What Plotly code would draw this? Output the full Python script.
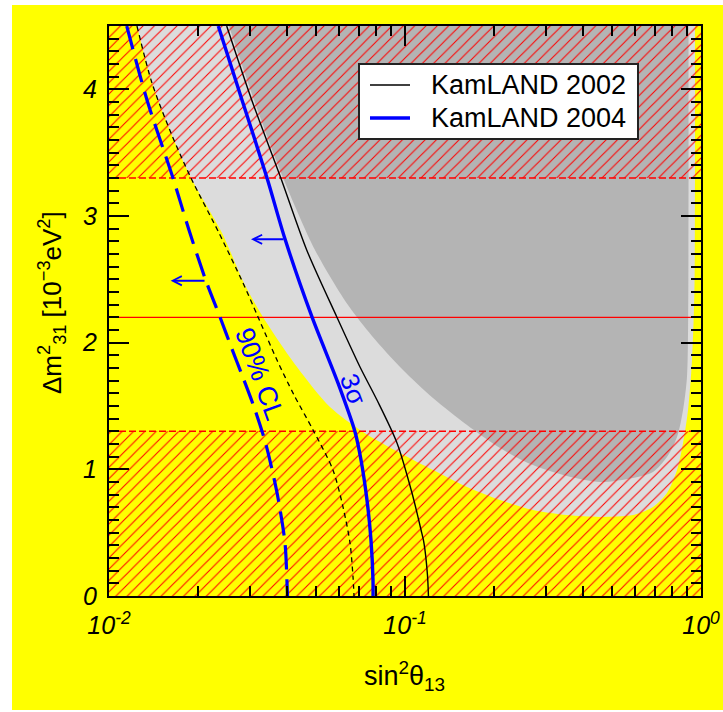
import numpy as np
import plotly.graph_objects as go

# ---------------- data (x = sin^2(theta13), y = dm^2_31 in 1e-3 eV^2) ----------------
X_RANGE = [0.01, 1.0]
Y_RANGE = [0.0, 4.5]

# KamLAND 2004, 90% CL contour (blue dashed)
K04_90_X = [0.01148, 0.01344, 0.01645, 0.01863, 0.02127, 0.02371, 0.02603, 0.02814, 0.0309,
            0.03365, 0.03526, 0.03724, 0.03932, 0.03994, 0.04009]
K04_90_Y = [4.5, 3.916, 3.30, 2.889, 2.487, 2.203, 1.950, 1.745, 1.492, 1.224, 1.034, 0.774,
            0.418, 0.103, 0.0]

# KamLAND 2004, 3 sigma contour (blue solid)
K04_3S_X = [0.0234, 0.02814, 0.03419, 0.03932, 0.0485, 0.05936, 0.06779, 0.07102,
            0.07439, 0.07675, 0.07796, 0.0780]
K04_3S_Y = [4.5, 3.916, 3.30, 2.818, 2.203, 1.682, 1.295, 1.074, 0.758, 0.442, 0.126, 0.0]

# KamLAND 2002, 90% CL contour (black dashed)
K02_90_X = [0.01243, 0.01397, 0.0162, 0.01892, 0.02353, 0.02836, 0.03187, 0.03694, 0.04217,
            0.04889, 0.0571, 0.06173, 0.0652, 0.06674, 0.06726]
K02_90_Y = [4.5, 4.05, 3.655, 3.30, 2.866, 2.471, 2.203, 1.863, 1.587, 1.311, 0.995, 0.703,
            0.418, 0.15, 0.0]

# KamLAND 2002, 3 sigma contour (black solid)
K02_3S_X = [0.02498, 0.03035, 0.03803, 0.04655, 0.05879, 0.07047, 0.08042, 0.09397, 0.1056,
            0.1133, 0.1159, 0.1191, 0.1200]
K02_3S_Y = [4.5, 3.916, 3.302, 2.732, 2.205, 1.808, 1.547, 1.208, 0.813, 0.521, 0.418,
            0.166, 0.0]

# Light grey excluded region
LIGHT_X = [0.01243, 0.01397, 0.0162, 0.01892, 0.02409, 0.02858, 0.03313, 0.04317, 0.05579,
           0.07213, 0.09619, 0.1243, 0.162, 0.2094, 0.2706, 0.3526, 0.4559, 0.5893, 0.6883,
           0.7675, 0.8298, 0.8696, 0.904, 0.9325, 0.950, 0.954, 0.954]
LIGHT_Y = [4.5, 4.05, 3.655, 3.30, 2.866, 2.471, 2.203, 1.808, 1.492, 1.295, 1.129, 0.995,
           0.861, 0.758, 0.679, 0.639, 0.624, 0.639, 0.703, 0.813, 0.995, 1.208, 1.468,
           1.863, 2.4, 3.2, 4.5]

# Dark grey excluded region
DARK_X = [0.02543, 0.0309, 0.03872, 0.04965, 0.06419, 0.07735, 0.0977, 0.1243, 0.162, 0.2094,
          0.2706, 0.3526, 0.4559, 0.5893, 0.6883, 0.7675, 0.8298, 0.8696, 0.8966, 0.905,
          0.9075, 0.9075]
DARK_Y = [4.5, 3.916, 3.302, 2.732, 2.297, 2.053, 1.792, 1.563, 1.350, 1.168, 1.034, 0.947,
          0.900, 0.932, 0.979, 1.097, 1.255, 1.468, 1.729, 2.2, 3.2, 4.5]

# Atmospheric dm^2 bands (hatched) and best fit
BAND_LOW = [0.0, 1.3]
BAND_HIGH = [3.3, 4.5]
BEST_FIT = 2.2

# arrows: (y, x_start, x_tip)
ARROW_3S = (2.816, 0.03932, 0.03018)
ARROW_90 = (2.489, 0.02127, 0.01616)

X_TICKS = [0.01, 0.1, 1.0]
X_TICKTEXT = ["10<sup>-2</sup>", "10<sup>-1</sup>", "10<sup>0</sup>"]
X_MINOR = [k * 10.0 ** e for e in (-2, -1) for k in range(2, 10)]
Y_TICKS = [0, 1, 2, 3, 4]

LEGEND_NAMES = ["KamLAND 2002", "KamLAND 2004"]

FONT = "Liberation Sans, Arial, Helvetica, sans-serif"
BLUE = "#0000ff"

# plot-area geometry in pixels (used to place paper-referenced items)
W, H = 723, 712
ML, MR, MT, MB = 109, 22, 26, 116
PW, PH = W - ML - MR, H - MT - MB


def px(xpix):
    return (xpix - ML) / PW


def py(ypix):
    return (H - MB - ypix) / PH


SPL = dict(shape="spline", smoothing=0.8)

fig = go.Figure()

fig.add_trace(go.Scatter(x=LIGHT_X, y=LIGHT_Y, mode="lines", fill="toself",
                         fillcolor="#dcdcdc", line=dict(width=0, **SPL),
                         showlegend=False, hoverinfo="skip"))
fig.add_trace(go.Scatter(x=DARK_X, y=DARK_Y, mode="lines", fill="toself",
                         fillcolor="#b4b4b4", line=dict(width=0, **SPL),
                         showlegend=False, hoverinfo="skip"))

for lo, hi in (BAND_LOW, BAND_HIGH):
    fig.add_trace(go.Scatter(
        x=[X_RANGE[0], X_RANGE[1], X_RANGE[1], X_RANGE[0], X_RANGE[0]],
        y=[lo, lo, hi, hi, lo], mode="lines", fill="toself",
        fillcolor="rgba(0,0,0,0)", line=dict(width=0),
        fillpattern=dict(shape="/", fgcolor="#ff0000", bgcolor="rgba(0,0,0,0)",
                         size=8, solidity=0.13, fillmode="replace"),
        showlegend=False, hoverinfo="skip"))

for yv in (BAND_LOW[1], BAND_HIGH[0]):
    fig.add_trace(go.Scatter(x=X_RANGE, y=[yv, yv], mode="lines",
                             line=dict(color="#ff0000", width=1.5, dash="7px,3px"),
                             showlegend=False, hoverinfo="skip"))
fig.add_trace(go.Scatter(x=X_RANGE, y=[BEST_FIT, BEST_FIT], mode="lines",
                         line=dict(color="#ff0000", width=1.2),
                         showlegend=False, hoverinfo="skip"))

fig.add_trace(go.Scatter(x=K02_90_X, y=K02_90_Y, mode="lines",
                         line=dict(color="black", width=1.3, dash="5px,4px", **SPL),
                         showlegend=False))
fig.add_trace(go.Scatter(x=K04_90_X, y=K04_90_Y, mode="lines",
                         line=dict(color=BLUE, width=3.2, dash="24px,10px", **SPL),
                         showlegend=False))
fig.add_trace(go.Scatter(x=K02_3S_X, y=K02_3S_Y, mode="lines", name=LEGEND_NAMES[0],
                         line=dict(color="black", width=1.4, **SPL), showlegend=False))
fig.add_trace(go.Scatter(x=K04_3S_X, y=K04_3S_Y, mode="lines", name=LEGEND_NAMES[1],
                         line=dict(color=BLUE, width=3.4, **SPL), showlegend=False))

annotations = []
for (yv, xs, xt) in (ARROW_3S, ARROW_90):
    annotations.append(dict(x=np.log10(xt), y=yv, ax=np.log10(xs), ay=yv,
                            xref="x", yref="y", axref="x", ayref="y", text="",
                            showarrow=True, arrowhead=5, arrowsize=0.9, arrowwidth=2,
                            arrowcolor=BLUE, standoff=0, startstandoff=0))

annotations.append(dict(x=np.log10(0.0322), y=1.75, xref="x", yref="y", text="90% CL",
                        showarrow=False, textangle=70, xanchor="center", yanchor="middle",
                        font=dict(family=FONT, size=27, color=BLUE)))
annotations.append(dict(x=np.log10(0.0672), y=1.63, xref="x", yref="y", text="3σ",
                        showarrow=False, textangle=70, xanchor="center", yanchor="middle",
                        font=dict(family=FONT, size=26, color=BLUE)))

# axis titles
annotations.append(dict(x=px(404), y=py(676), xref="paper", yref="paper",
                        xanchor="center", yanchor="middle",
                        text="sin<sup>2</sup>θ<sub>13</sub>", showarrow=False,
                        font=dict(family=FONT, size=27, color="black")))
annotations.append(dict(x=px(52), y=py(303), xref="paper", yref="paper",
                        xanchor="center", yanchor="middle",
                        text="Δm<sup>2</sup><sub>31</sub> [10<sup>−3</sup>eV<sup>2</sup>]",
                        showarrow=False, textangle=-90,
                        font=dict(family=FONT, size=26, color="black")))

shapes = [dict(type="rect", xref="paper", yref="paper", x0=px(12), x1=px(W + 5),
               y0=py(710), y1=py(5), fillcolor="#ffff00", line=dict(width=0), layer="below")]

# legend box (drawn manually to match the reference geometry)
shapes.append(dict(type="rect", xref="paper", yref="paper", x0=px(359), x1=px(638),
                   y0=py(139), y1=py(64), fillcolor="white",
                   line=dict(color="#222222", width=2), layer="above"))
legend_styles = [dict(color="black", width=1.4), dict(color=BLUE, width=3.4)]
for i, (name, st) in enumerate(zip(LEGEND_NAMES, legend_styles)):
    yrow = 85 + 33 * i
    shapes.append(dict(type="line", xref="paper", yref="paper", x0=px(370), x1=px(410),
                       y0=py(yrow), y1=py(yrow), line=st, layer="above"))
    annotations.append(dict(x=px(429), y=py(yrow), xref="paper", yref="paper",
                            xanchor="left", yanchor="middle", text=name, showarrow=False,
                            font=dict(family=FONT, size=27, color="black")))

fig.update_layout(
    width=W, height=H,
    margin=dict(l=ML, r=MR, t=MT, b=MB),
    paper_bgcolor="white", plot_bgcolor="#ffff00",
    font=dict(family=FONT, color="black"),
    annotations=annotations, shapes=shapes, showlegend=False,
    xaxis=dict(type="log", range=[np.log10(X_RANGE[0]), np.log10(X_RANGE[1])],
               tickmode="array", tickvals=X_TICKS, ticktext=X_TICKTEXT,
               ticks="inside", ticklen=20, tickwidth=2, tickcolor="black",
               mirror="allticks", showline=True, linewidth=2, linecolor="black",
               showgrid=False, zeroline=False, automargin=False, ticklabelstandoff=6,
               minor=dict(tickmode="array", tickvals=X_MINOR, ticks="inside",
                          ticklen=10, tickwidth=1.5, tickcolor="black", showgrid=False),
               tickfont=dict(family=FONT, size=25, color="black", style="italic")),
    yaxis=dict(range=Y_RANGE, tickmode="array", tickvals=Y_TICKS,
               ticks="inside", ticklen=20, tickwidth=2, tickcolor="black",
               mirror="allticks", showline=True, linewidth=2, linecolor="black",
               showgrid=False, zeroline=False, automargin=False, ticklabelstandoff=5,
               minor=dict(dtick=0.1, tick0=0, ticks="inside", ticklen=10,
                          tickwidth=1.5, tickcolor="black", showgrid=False),
               tickfont=dict(family=FONT, size=25, color="black", style="italic")),
)

fig.write_html("out.html", config={"displayModeBar": False},
               post_script="document.body.style.margin='0';document.body.style.padding='0';")
